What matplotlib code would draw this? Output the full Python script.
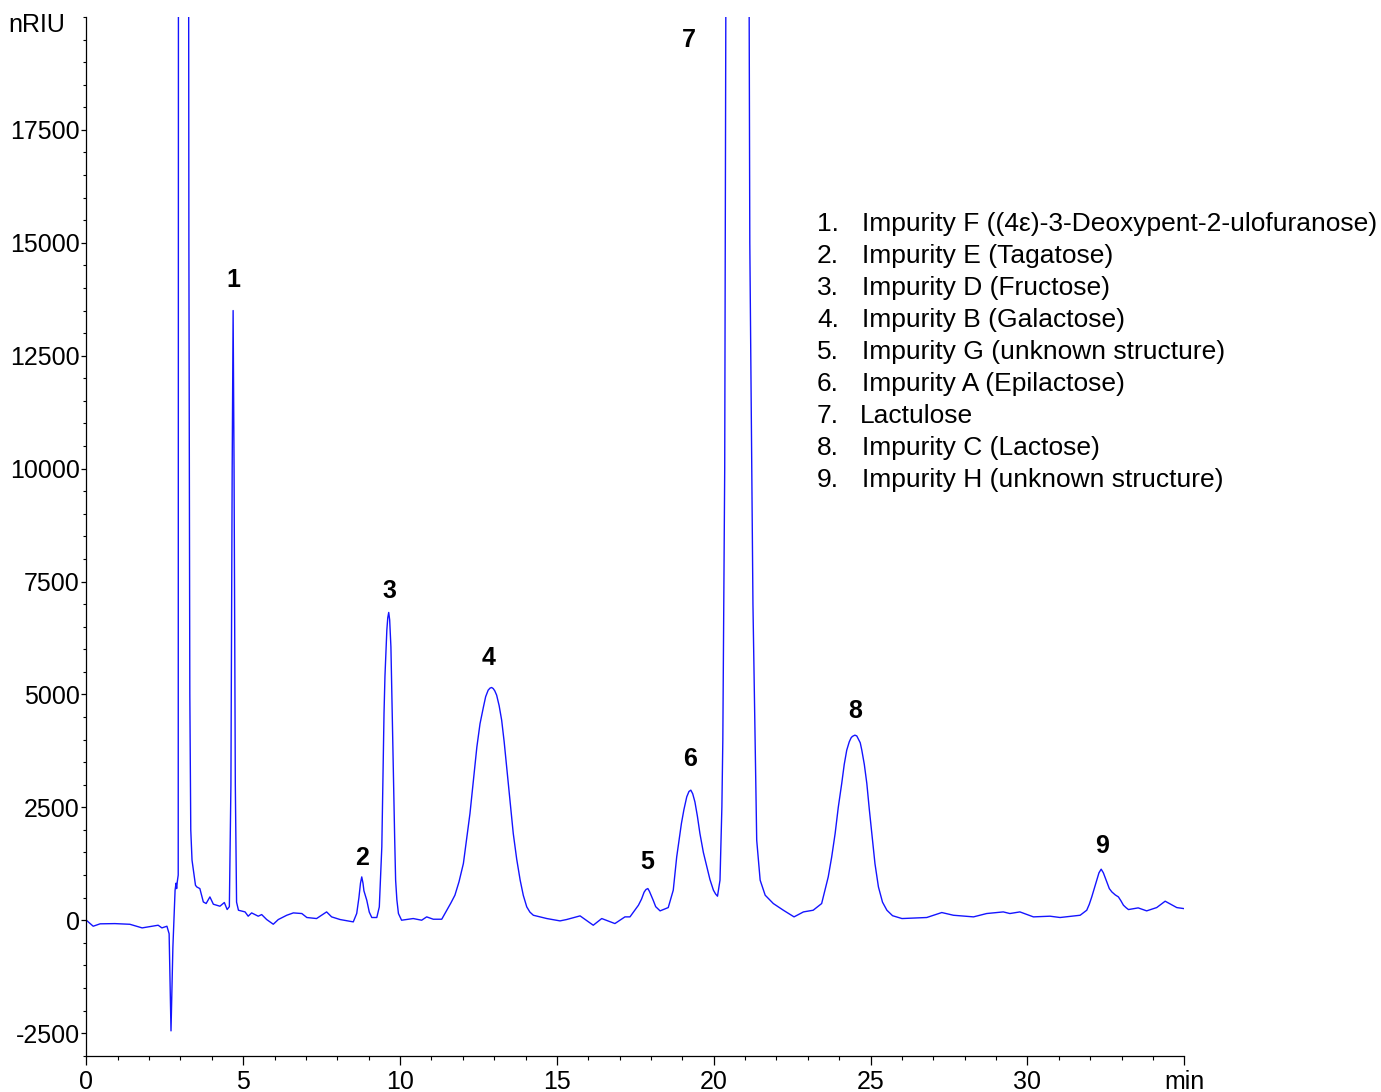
"""HPLC-RI chromatogram of lactulose with labelled impurity peaks."""

from __future__ import annotations

import matplotlib

matplotlib.use("Agg")
import matplotlib.pyplot as plt
from matplotlib.ticker import MultipleLocator

# trace (retention time in min, signal in nRIU)
time_min = [
    0.00, 0.22, 0.44, 0.91, 1.39, 1.78, 2.29, 2.41, 2.57, 2.64, 2.70, 2.76,
    2.83, 2.86, 2.88, 2.90, 2.93, 2.94, 3.25, 3.27, 3.30, 3.33, 3.37, 3.48,
    3.52, 3.62, 3.73, 3.82, 3.94, 4.05, 4.26, 4.40, 4.49, 4.56, 4.61, 4.65,
    4.68, 4.71, 4.75, 4.79, 4.85, 5.06, 5.16, 5.27, 5.48, 5.59, 5.75, 5.96,
    6.12, 6.39, 6.60, 6.87, 7.03, 7.34, 7.66, 7.82, 8.09, 8.51, 8.62, 8.69,
    8.74, 8.78, 8.82, 8.85, 8.94, 9.02, 9.10, 9.26, 9.34, 9.42, 9.49, 9.52,
    9.58, 9.61, 9.64, 9.67, 9.71, 9.75, 9.79, 9.83, 9.86, 9.90, 9.95, 10.05,
    10.42, 10.69, 10.85, 11.06, 11.33, 11.49, 11.62, 11.75, 11.88, 12.02,
    12.12, 12.23, 12.34, 12.45, 12.55, 12.66, 12.73, 12.81, 12.87, 12.92,
    12.97, 13.02, 13.08, 13.16, 13.24, 13.32, 13.40, 13.50, 13.61, 13.72,
    13.83, 13.93, 14.04, 14.14, 14.25, 14.68, 15.10, 15.31, 15.74, 16.16,
    16.43, 16.85, 17.17, 17.33, 17.60, 17.70, 17.78, 17.84, 17.90, 17.95,
    18.00, 18.07, 18.15, 18.29, 18.55, 18.71, 18.76, 18.82, 18.90, 18.97,
    19.05, 19.14, 19.21, 19.27, 19.33, 19.40, 19.48, 19.56, 19.67, 19.78,
    19.88, 19.99, 20.06, 20.12, 20.20, 20.26, 20.29, 20.35, 20.42, 21.09,
    21.15, 21.25, 21.32, 21.37, 21.48, 21.64, 21.90, 22.22, 22.56, 22.86,
    23.17, 23.44, 23.65, 23.76, 23.87, 23.97, 24.08, 24.16, 24.24, 24.32,
    24.38, 24.42, 24.50, 24.56, 24.62, 24.67, 24.72, 24.80, 24.88, 24.96,
    25.04, 25.14, 25.25, 25.38, 25.52, 25.70, 26.00, 26.79, 27.27, 27.64,
    28.28, 28.70, 29.23, 29.44, 29.76, 30.19, 30.72, 31.04, 31.68, 31.89,
    31.97, 32.05, 32.13, 32.21, 32.28, 32.35, 32.42, 32.53, 32.61, 32.69,
    32.80, 32.90, 32.98, 33.06, 33.14, 33.22, 33.53, 33.80, 34.12, 34.39,
    34.76, 34.97,
]
signal_nriu = [
    0, -133, -80, -75, -90, -170, -111, -170, -133, -300, -2450, -600,
    665, 820, 700, 850, 1000, 30000, 30000, 15000, 5000, 2000, 1330, 775,
    738, 700, 405, 370, 516, 354, 310, 392, 237, 300, 3000, 10000,
    13500, 10000, 3000, 400, 221, 184, 89, 162, 89, 125, 15, -89,
    15, 110, 162, 148, 60, 37, 184, 74, 15, -37, 150, 500,
    820, 959, 820, 650, 443, 180, 60, 60, 295, 1624, 4578, 5400,
    6424, 6700, 6815, 6650, 6054, 4600, 3101, 1800, 886, 450, 148, 0,
    37, 0, 74, 22, 22, 221, 380, 554, 850, 1255,
    1780, 2363, 3100, 3838, 4350, 4725, 4950, 5094, 5140, 5153,
    5130, 5080, 4984, 4750, 4430, 3950, 3395, 2700, 1920, 1350,
    886, 550, 295, 180, 110, 37, -15, 15, 96, -111,
    37, -74, 74, 74, 332, 470, 620, 680, 701, 640,
    560, 443, 300, 207, 280, 665, 1000, 1403, 1800, 2142,
    2450, 2732, 2850, 2880, 2800, 2621, 2300, 1920, 1500, 1181,
    900, 665, 580, 532, 886, 2510, 3987, 10000, 30000, 30000,
    15000, 7000, 3987, 1772, 886, 554, 369, 221, 74, 184,
    221, 369, 959, 1400, 1920, 2500, 3028, 3450, 3766, 3950,
    4040, 4070, 4098, 4080, 4000, 3930, 3766, 3450, 3028, 2450,
    1920, 1250, 738, 400, 221, 100, 37, 60, 170, 110,
    74, 148, 184, 148, 184, 74, 89, 60, 110, 221,
    350, 516, 700, 886, 1050, 1130, 1050, 849, 700, 627,
    560, 516, 430, 332, 280, 236, 273, 207, 280, 421,
    280, 259,
]

# peak number labels (position of the label centre)
peak_labels = ["1", "2", "3", "4", "5", "6", "7", "8", "9"]
peak_label_time = [4.68, 8.79, 9.65, 12.83, 17.88, 19.25, 19.21, 24.50, 32.38]
peak_label_signal = [14170, 1374, 7290, 5800, 1285, 3570, 19490, 4630, 1640]

peak_names = [
    "Impurity F ((4\u03b5)-3-Deoxypent-2-ulofuranose)",
    "Impurity E (Tagatose)",
    "Impurity D (Fructose)",
    "Impurity B (Galactose)",
    "Impurity G (unknown structure)",
    "Impurity A (Epilactose)",
    "Lactulose",
    "Impurity C (Lactose)",
    "Impurity H (unknown structure)",
]

x_ticks = [0, 5, 10, 15, 20, 25, 30, 35]
x_tick_labels = ["0", "5", "10", "15", "20", "25", "30", "min"]
y_ticks = [-2500, 0, 2500, 5000, 7500, 10000, 12500, 15000, 17500]


def main() -> int:
    plt.rcParams.update(
        {
            "font.family": ["Liberation Sans", "DejaVu Sans"],
            "font.size": 18,
            "axes.unicode_minus": False,
            "axes.spines.top": False,
            "axes.spines.right": False,
            "axes.linewidth": 0.9,
        }
    )
    W, H = 1381, 1092
    fig = plt.figure(figsize=(W / 100, H / 100), dpi=100)
    ax = fig.add_axes([86.3 / W, 36.3 / H, 1098 / W, 1038.7 / H])

    ax.plot(time_min, signal_nriu, color="#1414ff", lw=1.0)

    for lab, t, s in zip(peak_labels, peak_label_time, peak_label_signal, strict=True):
        ax.text(t, s, lab, ha="center", va="center", fontsize=18, fontweight="bold")

    ax.set_xlim(0, 35)
    ax.set_ylim(-3000, 20000)
    ax.set_xticks(x_ticks, x_tick_labels)
    ax.set_yticks(y_ticks)
    ax.xaxis.set_minor_locator(MultipleLocator(1))
    ax.yaxis.set_minor_locator(MultipleLocator(500))
    ax.tick_params(axis="x", which="major", length=6.5, width=0.9, pad=4, labelsize=18)
    ax.tick_params(axis="x", which="minor", length=3, width=0.8)
    ax.tick_params(axis="y", which="major", length=3.6, width=0.9, pad=1, labelsize=18)
    ax.tick_params(axis="y", which="minor", length=2.2, width=0.8)

    fig.text(65 / W, 1 - 25 / H, "nRIU", ha="right", va="center", fontsize=18)

    for i, name in enumerate(peak_names):
        y = 1 - (224 + 32 * i) / H
        fig.text(817 / W, y, f"{i + 1}.", ha="left", va="center", fontsize=19)
        x_name = 860 if name == "Lactulose" else 862
        fig.text(x_name / W, y, name, ha="left", va="center", fontsize=19)

    fig.savefig("out.png", dpi=100)
    plt.close(fig)
    return 0


if __name__ == "__main__":
    raise SystemExit(main())
